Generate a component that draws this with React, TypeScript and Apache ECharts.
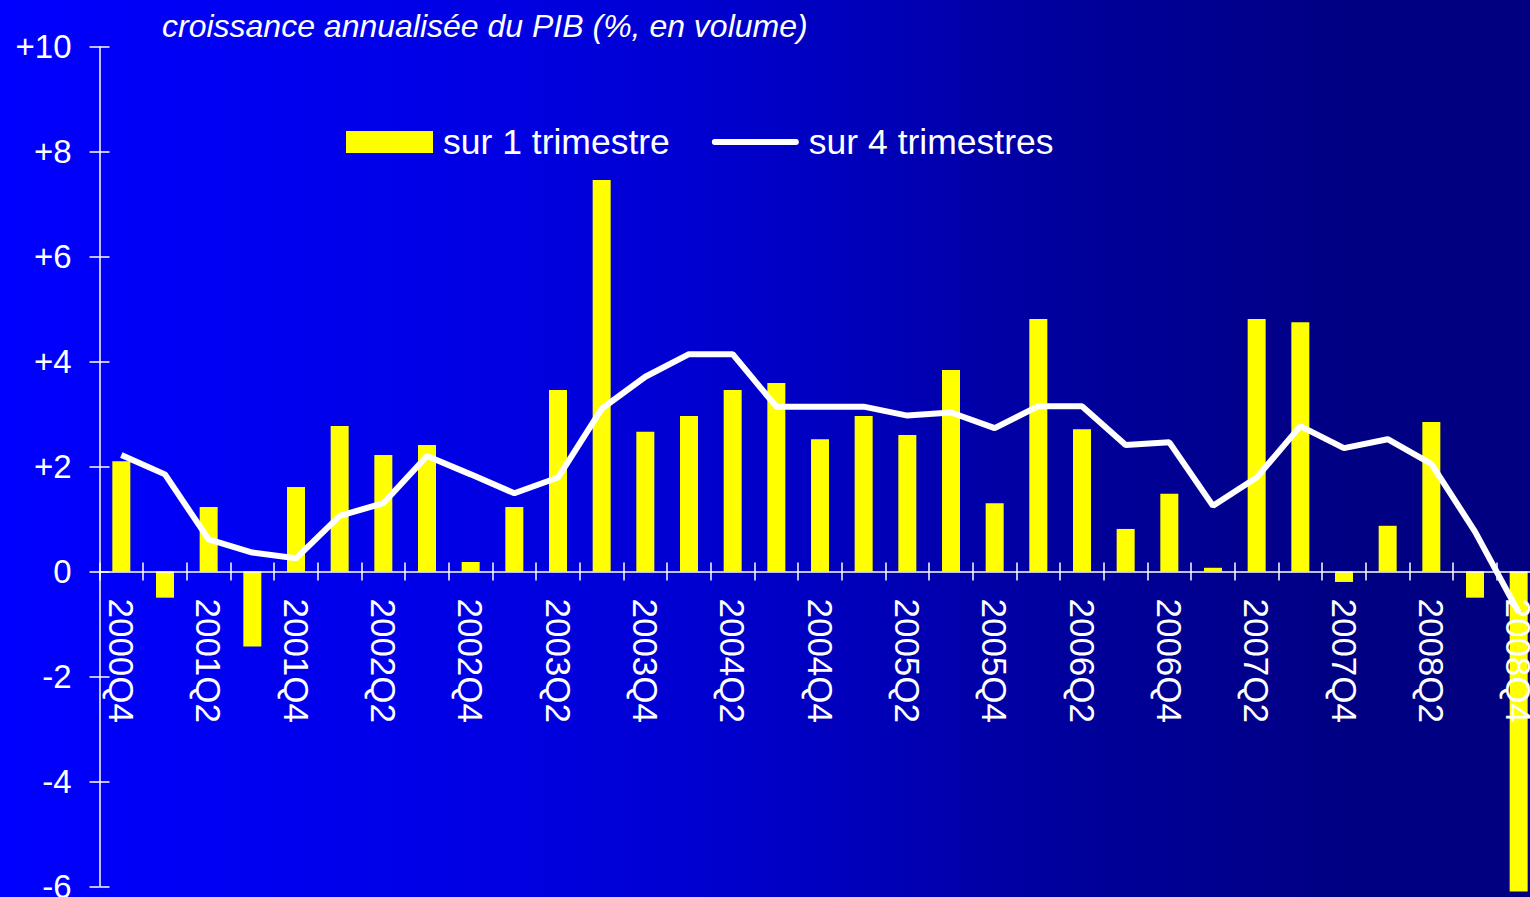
import React, { useEffect, useRef } from "react";
import * as echarts from "echarts";

const categories: string[] = [
  "2000Q4",
  "2001Q1", "2001Q2", "2001Q3", "2001Q4",
  "2002Q1", "2002Q2", "2002Q3", "2002Q4",
  "2003Q1", "2003Q2", "2003Q3", "2003Q4",
  "2004Q1", "2004Q2", "2004Q3", "2004Q4",
  "2005Q1", "2005Q2", "2005Q3", "2005Q4",
  "2006Q1", "2006Q2", "2006Q3", "2006Q4",
  "2007Q1", "2007Q2", "2007Q3", "2007Q4",
  "2008Q1", "2008Q2", "2008Q3", "2008Q4",
];

// croissance sur 1 trimestre (annualisée)
const quarterGrowth: number[] = [
  2.1, -0.5, 1.23, -1.43, 1.61, 2.77, 2.22, 2.41, 0.18, 1.23, 3.46, 7.46,
  2.66, 2.96, 3.46, 3.59, 2.52, 2.96, 2.6, 3.84, 1.3, 4.81, 2.71, 0.81,
  1.48, 0.07, 4.81, 4.75, -0.2, 0.87, 2.85, -0.5, -6.1,
];

// croissance sur 4 trimestres
const yearGrowth: number[] = [
  2.22, 1.85, 0.61, 0.36, 0.25, 1.06, 1.3, 2.2, 1.85, 1.49, 1.79, 3.1,
  3.71, 4.14, 4.14, 3.14, 3.14, 3.14, 2.97, 3.03, 2.73, 3.15, 3.15, 2.41,
  2.46, 1.25, 1.79, 2.77, 2.35, 2.52, 2.05, 0.76, -0.78,
];

const seriesNames: string[] = ["sur 1 trimestre", "sur 4 trimestres"];
const titleText = "croissance annualisée du PIB (%, en volume)";
const yMin = -6;
const yMax = 10;
const yInterval = 2;

const FONT = "'Liberation Sans', Arial, Helvetica, sans-serif";
const LINE_ICON = "path://M3,0 L87,0 A3,3 0 0 1 87,6 L3,6 A3,3 0 0 1 3,0 Z";

const GRID_TOP = 46.7;
const GRID_HEIGHT = 839.6;

export default function App() {
  const ref = useRef<HTMLDivElement | null>(null);

  useEffect(() => {
    if (!ref.current) return;
    const chart = echarts.init(ref.current, undefined, { renderer: "svg" });

    const yLabelFmt = (v: number) => (v > 0 ? "+" + v : String(v));
    // distance from the bottom of the grid up to the zero line
    const zeroOffset = -(GRID_HEIGHT * (0 - yMin)) / (yMax - yMin);

    const axisLineStyle = { color: "#ffffff", width: 1.5 };

    const option: any = {
      animation: false,
      backgroundColor: "transparent",
      title: {
        text: titleText,
        left: 162,
        top: 10,
        padding: 0,
        textStyle: {
          color: "#ffffff",
          fontSize: 32,
          fontStyle: "italic",
          fontWeight: "normal",
          fontFamily: FONT,
        },
      },
      legend: {
        left: 346,
        top: 124,
        padding: 0,
        itemWidth: 87,
        itemHeight: 22,
        itemGap: 42,
        symbolKeepAspect: true,
        data: [
          { name: seriesNames[0], icon: "rect" },
          { name: seriesNames[1], icon: LINE_ICON },
        ],
        textStyle: {
          color: "#ffffff",
          fontSize: 35.5,
          fontFamily: FONT,
          padding: [0, 0, 0, 5],
        },
      },
      grid: {
        left: 99.5,
        top: GRID_TOP,
        width: 1441,
        height: GRID_HEIGHT,
        containLabel: false,
        outerBoundsMode: "none",
      },
      xAxis: [
        {
          type: "category",
          data: categories,
          position: "bottom",
          offset: zeroOffset,
          z: 3,
          axisLine: { show: true, onZero: false, lineStyle: axisLineStyle },
          axisTick: { show: true, interval: 0, length: 9, inside: false, lineStyle: axisLineStyle },
          axisLabel: {
            interval: 1,
            rotate: -90,
            margin: 27,
            color: "#ffffff",
            fontSize: 35,
            fontFamily: FONT,
          },
          splitLine: { show: false },
        },
        {
          type: "category",
          data: categories,
          position: "bottom",
          offset: zeroOffset,
          z: 3,
          axisLine: { show: false, onZero: false },
          axisTick: { show: true, interval: 0, length: 9, inside: true, lineStyle: axisLineStyle },
          axisLabel: { show: false },
          splitLine: { show: false },
        },
      ],
      yAxis: [
        {
          type: "value",
          position: "left",
          min: yMin,
          max: yMax,
          interval: yInterval,
          axisLine: { show: true, lineStyle: axisLineStyle },
          axisTick: { show: true, length: 10, inside: false, lineStyle: axisLineStyle },
          axisLabel: {
            color: "#ffffff",
            fontSize: 33,
            fontFamily: FONT,
            margin: 28,
            formatter: yLabelFmt,
          },
          splitLine: { show: false },
        },
        {
          type: "value",
          position: "left",
          min: yMin,
          max: yMax,
          interval: yInterval,
          axisLine: { show: false },
          axisTick: { show: true, length: 10, inside: true, lineStyle: axisLineStyle },
          axisLabel: { show: false },
          splitLine: { show: false },
        },
      ],
      series: [
        {
          name: seriesNames[0],
          type: "bar",
          data: quarterGrowth,
          barWidth: 18,
          clip: false,
          z: 2,
          itemStyle: { color: "#ffff00" },
        },
        {
          name: seriesNames[1],
          type: "line",
          data: yearGrowth,
          symbol: "none",
          showSymbol: false,
          z: 5,
          lineStyle: { color: "#ffffff", width: 6 },
          itemStyle: { color: "#ffffff" },
        },
      ],
    };

    chart.setOption(option);
    return () => {
      chart.dispose();
    };
  }, []);

  return (
    <div
      style={{
        position: "fixed",
        left: 0,
        top: 0,
        width: 1530,
        height: 897,
        overflow: "hidden",
        background:
          "linear-gradient(to right, #0000ff 0%, #0000ee 20%, #0000e0 35%, #0000cc 48%, #00009c 70%, #000084 88%, #000080 100%)",
      }}
    >
      <div ref={ref} style={{ width: 1530, height: 897 }} />
    </div>
  );
}
